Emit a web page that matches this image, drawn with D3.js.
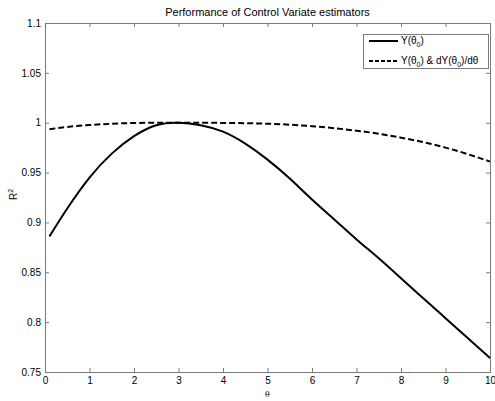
<!DOCTYPE html>
<html>
<head>
<meta charset="utf-8">
<script src="https://cdn.jsdelivr.net/npm/d3@7"></script>
<style>
  body { margin: 0; background: #fff; }
  text { font-family: "Liberation Sans", Arial, sans-serif; }
</style>
</head>
<body>
<script>
// valores
var theta = [0.1, 0.5, 1, 1.5, 2, 2.5, 3, 3.5, 4, 4.5, 5, 5.5, 6, 6.5, 7, 7.5, 8, 8.5, 9, 9.5, 10]
var r2Y = [0.886, 0.914, 0.945, 0.969, 0.9865, 0.9975, 1.000, 0.9975, 0.991, 0.979, 0.963, 0.944, 0.923, 0.903, 0.883, 0.864, 0.844, 0.824, 0.804, 0.784, 0.764]
var r2YdY = [0.9935, 0.9958, 0.9977, 0.999, 0.9997, 1.0, 1.0, 1.0, 0.9998, 0.9995, 0.999, 0.998, 0.9965, 0.9945, 0.992, 0.989, 0.985, 0.9805, 0.975, 0.9685, 0.961]
var xTicks = [0, 1, 2, 3, 4, 5, 6, 7, 8, 9, 10]
var yTicks = [0.75, 0.8, 0.85, 0.9, 0.95, 1, 1.05, 1.1]
var titulo = "Performance of Control Variate estimators"

// parametros generales
var W = 495, H = 401
var margin = { top: 23, right: 5, bottom: 29, left: 45 },
    width = W - margin.left - margin.right,
    height = H - margin.top - margin.bottom,
    axisColor = "#7a7a7a"

var svg = d3.select("body").append("svg")
    .attr("width", W)
    .attr("height", H)

var g = svg.append("g")
    .attr("transform", "translate(" + margin.left + "," + margin.top + ")")

var x = d3.scaleLinear().domain([0, 10]).range([0, width])
var y = d3.scaleLinear().domain([0.75, 1.1]).range([height, 0])

// ejes con ticks hacia dentro (estilo matlab)
function estiloEje(sel) {
    sel.select(".domain").remove()
    sel.selectAll("line").attr("stroke", axisColor)
    sel.selectAll("text").attr("fill", "#000").style("font-size", "10px")
}

g.append("g")
    .attr("transform", "translate(0," + height + ")")
    .call(d3.axisBottom(x).tickValues(xTicks).tickSizeInner(-4).tickSizeOuter(0).tickPadding(5).tickFormat(d3.format("d")))
    .call(estiloEje)

g.append("g")
    .call(d3.axisTop(x).tickValues(xTicks).tickSizeInner(-4).tickSizeOuter(0).tickFormat(""))
    .call(estiloEje)

g.append("g")
    .call(d3.axisLeft(y).tickValues(yTicks).tickSizeInner(-4).tickSizeOuter(0).tickPadding(4).tickFormat(d => String(+d.toFixed(2))))
    .call(estiloEje)

g.append("g")
    .attr("transform", "translate(" + width + ",0)")
    .call(d3.axisRight(y).tickValues(yTicks).tickSizeInner(-4).tickSizeOuter(0).tickFormat(""))
    .call(estiloEje)

// marco
g.append("rect")
    .attr("width", width)
    .attr("height", height)
    .attr("fill", "none")
    .attr("stroke", axisColor)
    .attr("stroke-width", 1)
    .attr("shape-rendering", "crispEdges")

// curvas
var linea = function(vals) {
    return d3.line()
        .x(function(d, i) { return x(theta[i]) })
        .y(function(d) { return y(d) })
        .curve(d3.curveNatural)(vals)
}

g.append("path")
    .attr("d", linea(r2Y))
    .attr("fill", "none")
    .attr("stroke", "#000")
    .attr("stroke-width", 2)

g.append("path")
    .attr("d", linea(r2YdY))
    .attr("fill", "none")
    .attr("stroke", "#000")
    .attr("stroke-width", 2)
    .attr("stroke-dasharray", "6,3")

// titulo y etiquetas
svg.append("text")
    .attr("x", margin.left + width / 2)
    .attr("y", 16)
    .attr("text-anchor", "middle")
    .style("font-size", "11px")
    .text(titulo)

svg.append("text")
    .attr("x", margin.left + width / 2)
    .attr("y", 397)
    .attr("text-anchor", "middle")
    .style("font-family", "'DejaVu Serif', serif")
    .style("font-size", "8px")
    .text("θ")

var yl = svg.append("text")
    .attr("transform", "translate(17," + (margin.top + height / 2 - 3) + ") rotate(-90)")
    .attr("text-anchor", "middle")
    .style("font-size", "10px")
yl.append("tspan").text("R")
yl.append("tspan").attr("dy", -4).style("font-size", "7px").text("2")

// leyenda
var leg = svg.append("g").attr("transform", "translate(363,34)")
leg.append("rect")
    .attr("width", 125)
    .attr("height", 34)
    .attr("fill", "#fff")
    .attr("stroke", axisColor)
    .attr("shape-rendering", "crispEdges")

var items = [
    { dash: null, parts: [["Y(θ", 0], ["0", 1], [")", 0]] },
    { dash: "4,2", parts: [["Y(θ", 0], ["0", 1], [") & dY(θ", 0], ["0", 1], [")/dθ", 0]] }
]

items.forEach(function(it, i) {
    var yy = 7 + i * 20
    leg.append("line")
        .attr("x1", 6).attr("x2", 35)
        .attr("y1", yy).attr("y2", yy)
        .attr("stroke", "#000")
        .attr("stroke-width", 2)
        .attr("stroke-dasharray", it.dash)
    var t = leg.append("text")
        .attr("x", 38)
        .attr("y", yy + 3)
        .style("font-size", "10px")
    var prev = 0
    it.parts.forEach(function(p) {
        var sub = p[1]
        t.append("tspan")
            .attr("dy", sub ? 3 : (prev ? -3 : 0))
            .style("font-size", sub ? "7px" : "10px")
            .text(p[0])
        prev = sub
    })
})
</script>
</body>
</html>
